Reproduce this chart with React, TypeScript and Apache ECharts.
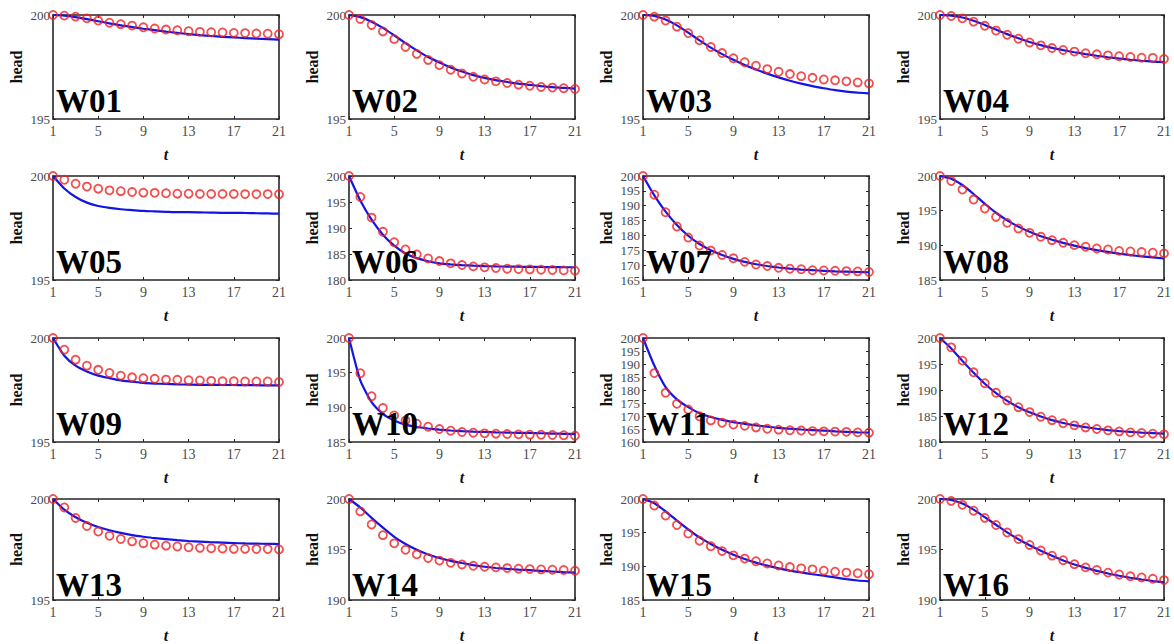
import React, { useEffect, useRef } from "react";
import * as echarts from "echarts";

// ---------- data ----------
const tLabels = ["1","2","3","4","5","6","7","8","9","10","11","12","13","14","15","16","17","18","19","20","21"];
const wellNames = ["W01","W02","W03","W04","W05","W06","W07","W08","W09","W10","W11","W12","W13","W14","W15","W16"];
const yMins = [195,195,195,195, 195,180,165,185, 195,185,160,180, 195,190,185,190];
const yMax = 200;
const yTickStep = 5;

const obsW01 = [200,199.97,199.92,199.84,199.73,199.63,199.56,199.49,199.41,199.35,199.3,199.27,199.22,199.19,199.17,199.16,199.14,199.13,199.11,199.1,199.08];
const simW01 = [200,199.97,199.9,199.8,199.7,199.6,199.5,199.42,199.34,199.27,199.2,199.14,199.08,199.03,198.99,198.95,198.92,198.89,198.86,198.84,198.82];
const obsW02 = [200,199.81,199.52,199.21,198.84,198.46,198.13,197.84,197.59,197.37,197.19,197.03,196.9,196.81,196.73,196.65,196.6,196.54,196.51,196.48,196.44];
const simW02 = [200,199.9,199.68,199.38,199.02,198.65,198.3,197.98,197.72,197.48,197.28,197.11,196.98,196.87,196.78,196.7,196.64,196.58,196.53,196.5,196.46];
const obsW03 = [200,199.92,199.73,199.44,199.13,198.78,198.46,198.17,197.92,197.73,197.56,197.4,197.27,197.16,197.06,196.98,196.9,196.86,196.81,196.76,196.71];
const simW03 = [200,199.95,199.78,199.5,199.15,198.78,198.43,198.12,197.85,197.6,197.38,197.18,197.0,196.84,196.7,196.58,196.48,196.39,196.32,196.27,196.23];
const obsW04 = [200,199.95,199.84,199.68,199.48,199.25,199.05,198.86,198.68,198.54,198.41,198.32,198.24,198.16,198.11,198.06,198.02,197.98,197.95,197.94,197.89];
const simW04 = [200,199.97,199.88,199.72,199.52,199.3,199.08,198.88,198.7,198.55,198.42,198.31,198.21,198.12,198.04,197.97,197.91,197.85,197.8,197.76,197.73];
const obsW05 = [200,199.82,199.63,199.49,199.39,199.31,199.27,199.23,199.2,199.19,199.17,199.15,199.15,199.14,199.14,199.14,199.14,199.13,199.13,199.13,199.12];
const simW05 = [200,199.4,198.99,198.72,198.56,198.47,198.4,198.36,198.32,198.3,198.28,198.26,198.26,198.25,198.24,198.23,198.23,198.22,198.21,198.2,198.19];
const obsW06 = [200,195.97,192.0,189.27,187.28,185.88,184.92,184.15,183.64,183.2,182.88,182.62,182.43,182.3,182.17,182.1,182.04,181.98,181.92,181.85,181.79];
const simW06 = [200,195.3,191.6,188.7,186.6,185.1,184.2,183.6,183.2,183.0,182.85,182.75,182.68,182.62,182.58,182.55,182.52,182.5,182.48,182.46,182.45];
const obsW07 = [200,193.7,187.8,183.0,179.3,176.6,174.9,173.4,172.3,171.1,170.2,169.7,169.1,168.8,168.6,168.3,168.2,168.1,168.0,167.9,167.7];
const simW07 = [200,193.5,188.0,183.5,179.9,177.1,175.0,173.4,172.1,171.1,170.3,169.7,169.2,168.8,168.5,168.3,168.1,167.9,167.8,167.7,167.6];
const obsW08 = [200,199.28,198.04,196.6,195.3,194.1,193.24,192.43,191.8,191.23,190.75,190.37,190.03,189.8,189.55,189.4,189.2,189.12,189.03,188.93,188.84];
const simW08 = [200,199.6,198.7,197.4,196.0,194.7,193.6,192.7,191.95,191.3,190.8,190.35,189.95,189.6,189.3,189.05,188.8,188.6,188.4,188.25,188.1];
const obsW09 = [200,199.44,198.96,198.67,198.47,198.32,198.19,198.11,198.07,198.04,198.0,197.99,197.97,197.96,197.94,197.92,197.92,197.91,197.91,197.91,197.89];
const simW09 = [200,199.15,198.67,198.39,198.19,198.07,197.96,197.9,197.84,197.81,197.79,197.77,197.76,197.75,197.75,197.74,197.74,197.73,197.73,197.72,197.72];
const obsW10 = [200,194.92,191.6,189.9,188.84,188.1,187.64,187.2,186.87,186.63,186.44,186.34,186.25,186.2,186.15,186.1,186.06,186.04,186.0,185.98,185.91];
const simW10 = [200,193.9,190.75,189.07,188.1,187.5,187.16,186.95,186.78,186.66,186.56,186.49,186.44,186.39,186.35,186.32,186.3,186.26,186.22,186.18,186.15];
const obsW11 = [200,186.5,178.9,174.7,172.5,169.9,168.3,167.4,166.7,166.2,165.6,165.1,164.75,164.5,164.4,164.2,164.1,164.0,163.9,163.7,163.6];
const simW11 = [200,189.4,181.1,176.4,173.4,171.1,169.6,168.5,167.6,167.0,166.4,165.9,165.4,165.1,164.8,164.6,164.4,164.1,163.9,163.7,163.6];
const obsW12 = [200,198.2,195.65,193.4,191.3,189.46,188.0,186.7,185.75,184.86,184.2,183.6,183.2,182.8,182.5,182.24,182.04,181.85,181.73,181.6,181.47];
const simW12 = [200,198.0,195.6,193.3,191.2,189.4,187.9,186.7,185.7,184.9,184.2,183.65,183.2,182.85,182.55,182.3,182.1,181.95,181.8,181.7,181.6];
const obsW13 = [200,199.58,199.06,198.66,198.39,198.18,198.02,197.9,197.81,197.74,197.69,197.65,197.61,197.58,197.56,197.55,197.53,197.53,197.52,197.52,197.5];
const simW13 = [200,199.47,199.1,198.82,198.61,198.45,198.32,198.21,198.13,198.06,198.01,197.96,197.92,197.89,197.86,197.84,197.82,197.8,197.79,197.78,197.77];
const obsW14 = [200,198.77,197.48,196.42,195.61,194.97,194.52,194.16,193.9,193.68,193.52,193.39,193.29,193.23,193.16,193.1,193.06,193.03,193.0,192.97,192.9];
const simW14 = [200,199.16,198.13,197.16,196.26,195.55,194.97,194.5,194.16,193.88,193.66,193.46,193.29,193.17,193.08,193.01,192.95,192.88,192.82,192.76,192.71];
const obsW15 = [200,199.03,197.53,196.13,194.87,193.81,192.98,192.26,191.63,191.15,190.76,190.42,190.13,189.89,189.7,189.55,189.36,189.21,189.07,188.97,188.83];
const simW15 = [200,199.37,198.16,196.8,195.5,194.29,193.32,192.45,191.73,191.1,190.55,190.1,189.7,189.37,189.08,188.82,188.6,188.35,188.1,187.9,187.76];
const obsW16 = [200,199.81,199.42,198.84,198.13,197.42,196.68,196.03,195.45,194.9,194.39,193.94,193.55,193.23,192.97,192.71,192.52,192.35,192.23,192.1,191.97];
const simW16 = [200,199.9,199.55,198.95,198.2,197.45,196.7,196.02,195.42,194.87,194.37,193.92,193.52,193.18,192.88,192.62,192.4,192.2,192.03,191.88,191.74];

const observed = [obsW01,obsW02,obsW03,obsW04,obsW05,obsW06,obsW07,obsW08,obsW09,obsW10,obsW11,obsW12,obsW13,obsW14,obsW15,obsW16];
const simulated = [simW01,simW02,simW03,simW04,simW05,simW06,simW07,simW08,simW09,simW10,simW11,simW12,simW13,simW14,simW15,simW16];

// ---------- layout ----------
const colLeft = [53, 349, 643, 940];
const rowTop = [15, 176, 338, 499];
const plotW = 226;
const plotH = 104;

const SERIF = '"Liberation Serif", "Times New Roman", serif';
const AXIS_COLOR = "#262626";
const LABEL_COLOR = "#4a4a4a";
const RED = "#f02020";
const BLUE = "#1414e6";

function buildOption() {
  const grid: any[] = [];
  const xAxis: any[] = [];
  const yAxis: any[] = [];
  const series: any[] = [];
  const graphic: any[] = [];

  wellNames.forEach((name, i) => {
    const r = Math.floor(i / 4);
    const c = i % 4;
    const left = colLeft[c];
    const top = rowTop[r];
    grid.push({ left, top, width: plotW, height: plotH, containLabel: false });

    const axisLine = { show: true, onZero: false, lineStyle: { color: AXIS_COLOR, width: 1.6 } };
    const tick = { show: true, inside: true, length: 3, lineStyle: { color: AXIS_COLOR, width: 1 } };

    xAxis.push({
      type: "category",
      gridIndex: i,
      data: tLabels,
      boundaryGap: false,
      position: "bottom",
      axisLine,
      axisTick: { ...tick, interval: 3 },
      axisLabel: { interval: 3, color: LABEL_COLOR, fontFamily: SERIF, fontSize: 14, margin: 5 },
      splitLine: { show: false },
      name: "t",
      nameLocation: "middle",
      nameGap: 27,
      nameTextStyle: { fontFamily: SERIF, fontStyle: "italic", fontWeight: "bold", fontSize: 16, color: "#111" },
    });
    xAxis.push({
      type: "category",
      gridIndex: i,
      data: tLabels,
      boundaryGap: false,
      position: "top",
      axisLine,
      axisTick: { ...tick, interval: 3 },
      axisLabel: { show: false },
      splitLine: { show: false },
    });
    yAxis.push({
      type: "value",
      gridIndex: i,
      min: yMins[i],
      max: yMax,
      interval: yTickStep,
      position: "left",
      axisLine,
      axisTick: tick,
      axisLabel: { color: LABEL_COLOR, fontFamily: SERIF, fontSize: 13, margin: 3 },
      splitLine: { show: false },
      name: "head",
      nameLocation: "middle",
      nameGap: 29,
      nameRotate: 90,
      nameTextStyle: { fontFamily: SERIF, fontWeight: "bold", fontSize: 16, color: "#111" },
    });
    yAxis.push({
      type: "value",
      gridIndex: i,
      min: yMins[i],
      max: yMax,
      interval: yTickStep,
      position: "right",
      axisLine,
      axisTick: tick,
      axisLabel: { show: false },
      splitLine: { show: false },
    });

    series.push({
      name: name + " simulated",
      type: "line",
      xAxisIndex: 2 * i,
      yAxisIndex: 2 * i,
      data: simulated[i],
      showSymbol: false,
      smooth: 0.2,
      lineStyle: { color: BLUE, width: 2.2 },
      z: 2,
    });
    series.push({
      name: name + " observed",
      type: "scatter",
      xAxisIndex: 2 * i,
      yAxisIndex: 2 * i,
      data: observed[i],
      symbol: "circle",
      symbolSize: 8,
      clip: false,
      itemStyle: { color: "rgba(0,0,0,0)", borderColor: RED, borderWidth: 1.8 },
      z: 3,
    });

    graphic.push({
      type: "text",
      left: left + 3,
      top: top + plotH - 35,
      z: 10,
      style: {
        text: name,
        font: `bold 33px ${SERIF}`,
        fill: "#000",
      },
    });
  });

  return {
    animation: false,
    backgroundColor: "#fff",
    grid,
    xAxis,
    yAxis,
    series,
    graphic,
  };
}

export default function App() {
  const ref = useRef<HTMLDivElement>(null);
  useEffect(() => {
    if (!ref.current) return;
    const chart = echarts.init(ref.current, undefined, { renderer: "svg" });
    chart.setOption(buildOption() as any);
    return () => chart.dispose();
  }, []);
  return (
    <div
      ref={ref}
      style={{ position: "fixed", left: 0, top: 0, width: 1174, height: 644, background: "#fff" }}
    />
  );
}
